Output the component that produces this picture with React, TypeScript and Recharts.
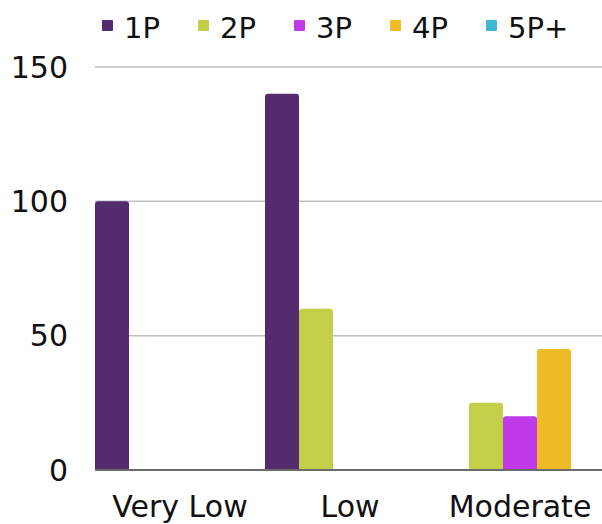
import React from 'react';
import { BarChart, Bar, XAxis, YAxis, CartesianGrid, Legend } from 'recharts';

const categories = ['Very Low', 'Low', 'Moderate'];
const p1 = [100, 140, 0];
const p2 = [0, 60, 25];
const p3 = [0, 0, 20];
const p4 = [0, 0, 45];
const p5 = [0, 0, 0];
const yTicks = [0, 50, 100, 150];

const series = [
  { key: '1P', values: p1, color: '#532b6e' },
  { key: '2P', values: p2, color: '#c4cf49' },
  { key: '3P', values: p3, color: '#bf3be9' },
  { key: '4P', values: p4, color: '#f0bc26' },
  { key: '5P+', values: p5, color: '#3fb8d6' }
];

const data = categories.map((name, i) => {
  const row: Record<string, string | number> = { name };
  series.forEach(s => {
    row[s.key] = s.values[i];
  });
  return row;
});

const font = '"DejaVu Sans", sans-serif';

function LegendContent() {
  return (
    <div
      style={{
        display: 'flex',
        height: 67,
        boxSizing: 'border-box',
        paddingLeft: 102,
        paddingTop: 13,
        fontFamily: font,
        fontSize: 29,
        lineHeight: '30px',
        color: '#111'
      }}
    >
      {series.map(s => (
        <div key={s.key} style={{ display: 'flex', alignItems: 'flex-start', width: 96 }}>
          <span
            style={{
              display: 'inline-block',
              width: 11,
              height: 11,
              marginTop: 7,
              marginRight: 11,
              background: s.color,
              borderRadius: 1
            }}
          />
          <span>{s.key}</span>
        </div>
      ))}
    </div>
  );
}

export default function App() {
  return (
    <div
      style={{
        position: 'absolute',
        top: 0,
        left: 0,
        width: 602,
        height: 524,
        overflow: 'hidden',
        background: '#fff'
      }}
    >
      <BarChart
        width={605}
        height={524}
        data={data}
        margin={{ top: 0, right: 0, bottom: 0, left: 0 }}
        barCategoryGap={0}
        barGap={0}
        style={{ overflow: 'visible' }}
      >
        <CartesianGrid vertical={false} stroke="#bfbfbf" strokeWidth={1.5} />
        <XAxis
          dataKey="name"
          height={54}
          tickLine={false}
          tickSize={0}
          tickMargin={26}
          axisLine={{ stroke: '#6b6b6b', strokeWidth: 2 }}
          tick={{ fill: '#111', fontSize: 30, fontFamily: font }}
          interval={0}
        />
        <YAxis
          width={95}
          domain={[0, 150]}
          ticks={yTicks}
          axisLine={false}
          tickLine={false}
          tickSize={0}
          tickMargin={27}
          tick={{ fill: '#111', fontSize: 30, fontFamily: font }}
        />
        <Legend verticalAlign="top" content={() => <LegendContent />} />
        {series.map(s => (
          <Bar
            key={s.key}
            dataKey={s.key}
            fill={s.color}
            radius={[3, 3, 0, 0]}
            isAnimationActive={false}
          />
        ))}
      </BarChart>
    </div>
  );
}
